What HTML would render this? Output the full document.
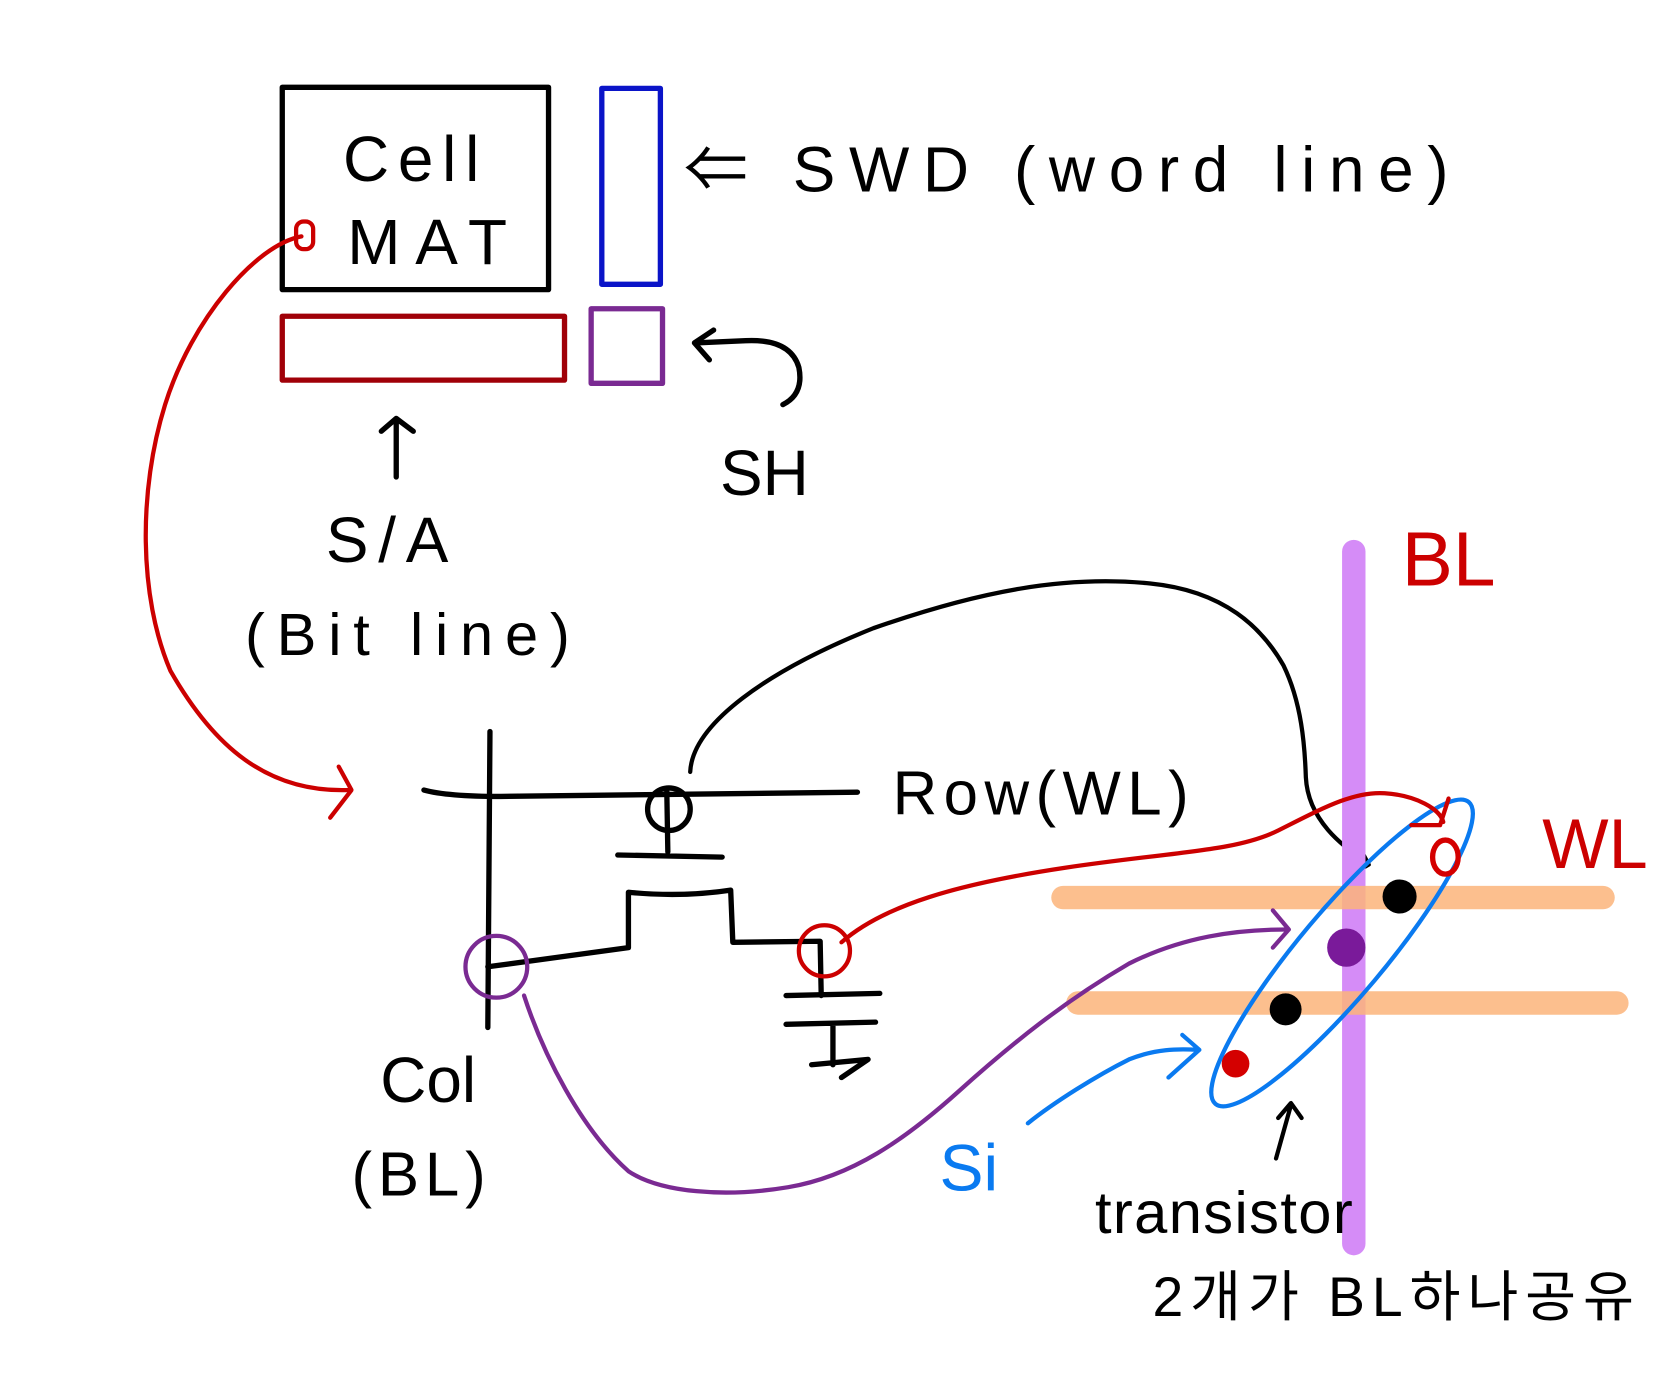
<!DOCTYPE html>
<html><head><meta charset="utf-8"><style>
html,body{margin:0;padding:0;background:#fff;}
svg{display:block;}
text{font-family:"Liberation Sans","Noto Sans CJK KR",sans-serif;}
</style></head><body>
<svg width="1668" height="1398" viewBox="0 0 1566 1313" preserveAspectRatio="none" xmlns="http://www.w3.org/2000/svg">
<g fill="none" stroke-linecap="round" stroke-linejoin="round">
<rect x="265" y="82" width="250" height="190" stroke="#000" stroke-width="5"/>
<rect x="565" y="83" width="55" height="184" stroke="#0a14c8" stroke-width="5"/>
<rect x="265" y="297" width="265" height="60" stroke="#a00008" stroke-width="5"/>
<rect x="555" y="290" width="67" height="70" stroke="#7a2a92" stroke-width="5"/>
<path d="M735 380 Q755 370 750 345 Q742 318 700 320 L655 322" stroke="#000" stroke-width="5"/>
<path d="M670 310 L652 322 L666 338" stroke="#000" stroke-width="5"/>
<path d="M372 448 L372 395 M358 405 L372 393 L388 405" stroke="#000" stroke-width="5"/>
<path d="M283 222 C240 230 180 300 155 380 C130 460 130 560 160 630 C200 700 250 745 328 742" stroke="#cc0000" stroke-width="4"/>
<path d="M318 720 L330 742 L310 768" stroke="#cc0000" stroke-width="4"/>
<rect x="278" y="208" width="16" height="26" rx="7" stroke="#cc0000" stroke-width="4"/>
<path d="M460 687 L458 965" stroke="#000" stroke-width="5"/>
<path d="M398 742 Q420 748 470 748 L805 744" stroke="#000" stroke-width="5"/>
<circle cx="628" cy="760" r="20" stroke="#000" stroke-width="5"/>
<path d="M626 742 L627 800 M580 803 L678 805" stroke="#000" stroke-width="5"/>
<path d="M458 908 L590 890 L590 838 Q640 843 686 836 L688 885 L770 884 L771 935" stroke="#000" stroke-width="5"/>
<path d="M738 935 L826 933 M738 962 L822 960 M782 962 L782 1000 M762 1000 L815 995 L790 1012" stroke="#000" stroke-width="5"/>
<path d="M648 725 C650 680 720 630 820 590 C920 555 1000 540 1080 548 C1150 555 1185 590 1205 625 C1222 660 1225 700 1226 730 C1228 770 1260 795 1284 810" stroke="#000" stroke-width="4"/>
<path d="M1276 795 L1285 812 L1268 822" stroke="#000" stroke-width="4"/>
<path d="M1271 518 L1271 1168" stroke="#d58cf7" stroke-width="22"/>
<path d="M998 843 L1505 843" stroke="#fbb47a" stroke-opacity="0.85" stroke-width="22"/>
<path d="M1012 942 L1518 942" stroke="#fbb47a" stroke-opacity="0.85" stroke-width="22"/>
<ellipse cx="1260" cy="895" rx="185" ry="40" transform="rotate(-50 1260 895)" stroke="#0a7af0" stroke-width="4"/>
<circle cx="1314" cy="842" r="16" fill="#000"/>
<circle cx="1264" cy="890" r="18" fill="#7a1a9a"/>
<circle cx="1207" cy="948" r="15" fill="#000"/>
<circle cx="1160" cy="999" r="13" fill="#d40000"/>
<ellipse cx="1357" cy="805" rx="12" ry="16" stroke="#d40000" stroke-width="5"/>
<circle cx="774" cy="893" r="24" stroke="#cc0000" stroke-width="4"/>
<path d="M790 885 C830 850 900 830 1000 815 C1100 800 1160 800 1200 780 C1240 760 1270 743 1300 745 C1330 747 1352 760 1355 772" stroke="#cc0000" stroke-width="4"/>
<path d="M1325 775 L1352 775 L1360 750" stroke="#cc0000" stroke-width="4"/>
<circle cx="466" cy="908" r="29" stroke="#7a2a92" stroke-width="4"/>
<path d="M492 935 C510 990 545 1060 590 1100 C620 1120 680 1125 740 1115 C800 1105 850 1070 900 1025 C950 980 1000 940 1060 905 C1110 880 1160 873 1208 873" stroke="#7a2a92" stroke-width="4"/>
<path d="M1195 855 L1210 873 L1195 890" stroke="#7a2a92" stroke-width="4"/>
<path d="M965 1055 C990 1035 1030 1010 1060 995 C1085 985 1105 985 1125 986" stroke="#0a7af0" stroke-width="4"/>
<path d="M1110 972 L1126 986 L1097 1012" stroke="#0a7af0" stroke-width="4"/>
<path d="M1198 1088 L1212 1038 M1200 1050 L1212 1036 L1222 1050" stroke="#000" stroke-width="4"/>
</g>
<g fill="#000">
<text x="322" y="170" font-size="60" textLength="128" lengthAdjust="spacing">Cell</text>
<text x="326" y="248" font-size="60" textLength="150" lengthAdjust="spacing">MAT</text>
<text x="642" y="180" font-size="60" textLength="718" lengthAdjust="spacing">⇐ SWD (word line)</text>
<text x="676" y="465" font-size="60">SH</text>
<text x="306" y="528" font-size="60" textLength="115" lengthAdjust="spacing">S/A</text>
<text x="230" y="615" font-size="56" textLength="305" lengthAdjust="spacing">(Bit line)</text>
<text x="838" y="765" font-size="58" textLength="278" lengthAdjust="spacing">Row(WL)</text>
<text x="357" y="1035" font-size="60">Col</text>
<text x="330" y="1123" font-size="58" textLength="126" lengthAdjust="spacing">(BL)</text>
<text x="1028" y="1158" font-size="56" textLength="242" lengthAdjust="spacing">transistor</text>
<text x="1082" y="1236" font-size="52" textLength="452" lengthAdjust="spacing">2개가  BL하나공유</text>
</g>
<text x="1316" y="550" font-size="72" fill="#cc0000">BL</text>
<text x="1448" y="815" font-size="66" fill="#cc0000">WL</text>
<text x="882" y="1118" font-size="62" fill="#0a7af0">Si</text>
</svg>
</body></html>
